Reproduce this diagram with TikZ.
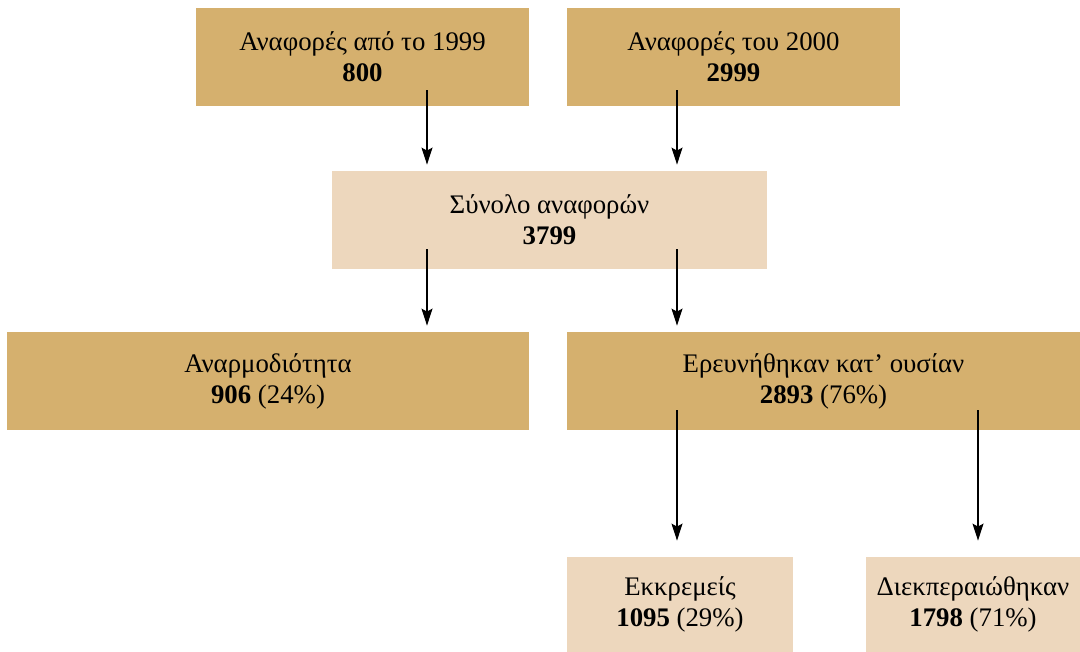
\documentclass[tikz,border=0pt]{standalone}
\usepackage{fontspec}
\setmainfont{Liberation Serif}
\usetikzlibrary{arrows.meta}
\definecolor{darktan}{HTML}{D5B06E}
\definecolor{lighttan}{HTML}{EDD7BD}
\tikzstyle{box} = [minimum height=49pt, inner sep=0pt, text centered, align=center, font=\fontsize{13.4}{15.5}\selectfont]
\tikzstyle{dark} = [box, fill=darktan]
\tikzstyle{light} = [box, fill=lighttan]
\tikzstyle{arr} = [-{Stealth[length=8.5pt, width=5.5pt, inset=1.5pt]}, line width=0.6pt]

\begin{document}
\begin{tikzpicture}[x=0.5pt, y=-0.5pt]
    \useasboundingbox (0,0) rectangle (1080,652);

    \node[dark, minimum width=166.5pt] (y1999) at (362.5,57) {Αναφορές από το 1999\\\textbf{800}};
    \node[dark, minimum width=166.5pt] (y2000) at (733.5,57) {Αναφορές του 2000\\\textbf{2999}};

    \node[light, minimum width=217.5pt] (total) at (549.5,220) {Σύνολο αναφορών\\\textbf{3799}};

    \node[dark, minimum width=261pt] (unfit) at (268,381) {Αναρμοδιότητα\\\textbf{906} (24\%)};
    \node[dark, minimum width=256.5pt] (probed) at (823.5,381) {Ερευνήθηκαν κατ’ ουσίαν\\\textbf{2893} (76\%)};

    \node[light, minimum width=113pt, minimum height=47.5pt] (pending) at (680,604.5) {Εκκρεμείς\\\textbf{1095} (29\%)};
    \node[light, minimum width=107pt, minimum height=47.5pt] (closed) at (973,604.5) {Διεκπεραιώθηκαν\\\textbf{1798} (71\%)};

    % arrows
    \draw[arr] ([shift={(64.5,-16)}]y1999.south) -- ([shift={(64.5,-6)}]y1999.south |- total.north);
    \draw[arr] ([shift={(-56.5,-16)}]y2000.south) -- ([shift={(-56.5,-6)}]y2000.south |- total.north);
    \draw[arr] ([shift={(-122.5,-20)}]total.south) -- ([shift={(-122.5,-6)}]total.south |- unfit.north);
    \draw[arr] ([shift={(127.5,-20)}]total.south) -- ([shift={(127.5,-6)}]total.south |- probed.north);
    \draw[arr] ([shift={(-146.5,-20)}]probed.south) -- ([shift={(-146.5,-16)}]probed.south |- pending.north);
    \draw[arr] ([shift={(154.5,-20)}]probed.south) -- ([shift={(154.5,-16)}]probed.south |- closed.north);
\end{tikzpicture}
\end{document}
